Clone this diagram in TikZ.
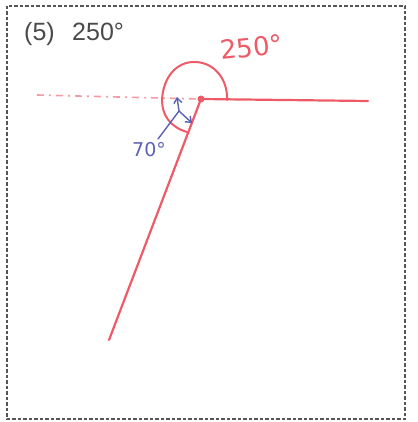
\documentclass[tikz,border=0pt]{standalone}
\usepackage{fontspec}
\setmainfont{DejaVu Sans}
\newfontfamily\titlefont{Liberation Sans}
\usetikzlibrary{arrows.meta}
\definecolor{rayred}{HTML}{EE5A66}
\definecolor{dashpink}{HTML}{F49AA2}
\definecolor{penblue}{HTML}{5B62B4}
\definecolor{framegray}{HTML}{555555}
\definecolor{titlegray}{HTML}{4A4A4A}
\begin{document}
\begin{tikzpicture}[x=1pt,y=-1pt,
  ray/.style={draw=rayred,line width=2.2pt,line cap=round},
  anglearc/.style={draw=rayred,line width=2pt,line cap=round,line join=round},
  guide/.style={draw=dashpink,line width=1.6pt,dash pattern=on 7pt off 5pt on 2pt off 5pt},
  bluepen/.style={draw=penblue,line width=1.4pt,line cap=round},
  frame/.style={draw=framegray,line width=1.5pt,dash pattern=on 3.5pt off 2pt},
  title/.style={text=titlegray,font=\titlefont\fontsize{25}{25}\selectfont,inner sep=0pt,anchor=base west},
  hand/.style={inner sep=0pt,anchor=base west}]
\useasboundingbox (0,0) rectangle (417,422);
\draw[frame] (7,6) rectangle (405,419);
\node[title] (t5) at (24,41) {(5)};
\node[title] (t250) at (72,41) {250°};
% points
\coordinate (V) at (201,99);
\coordinate (R) at (368,101);
\coordinate (L) at (109,340);
\coordinate (D) at (37,95);
% guide
\draw[guide] (D) -- (V);
% rays
\draw[ray] (V) -- (R);
\draw[ray] (V) -- (L);
\fill[rayred] (V) circle (3.5pt);
% 250 arc loop
\draw[anglearc] (227,100) .. controls (228,80) and (215,63) .. (196,62)
  .. controls (176,61) and (163,78) .. (162,100)
  .. controls (162,115) and (170,127) .. (187,132);
% red label
\node[hand,text=rayred,font=\fontsize{26}{26}\selectfont,rotate=6] (l250) at (221,60) {250°};
% blue 70 arrow
\coordinate (B1) at (177,97);
\coordinate (B2) at (192,123);
\coordinate (Bm) at (179,111);
\draw[bluepen,{Straight Barb[length=5pt,width=8pt]}-{Straight Barb[length=5pt,width=8pt]}] (B1) -- (Bm) -- (B2);
\draw[bluepen] (Bm) -- (158,139);
\node[hand,text=penblue,font=\fontsize{19}{19}\selectfont] (l70) at (132,157) {70°};
\end{tikzpicture}
\end{document}
